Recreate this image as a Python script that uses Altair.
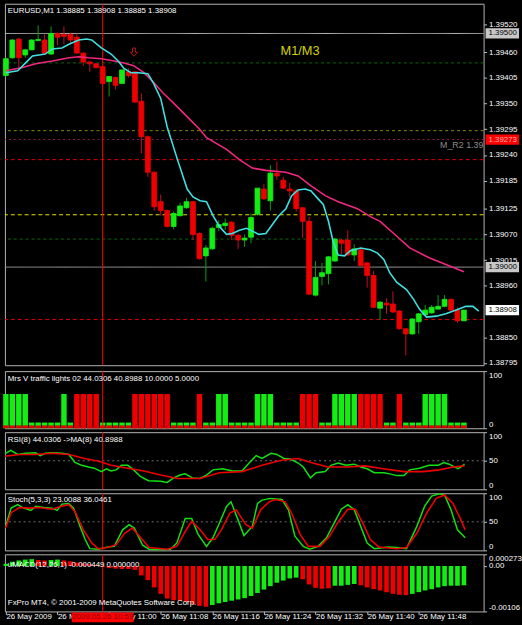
import json
import altair as alt
import pandas as pd

# ---------------- data : EURUSD M1, 26 May 2009, bars 10:44 .. 11:55 ----------------
bar_index = list(range(72))
open_ = [1.39410, 1.39448, 1.39488, 1.39454, 1.39465, 1.39485, 1.39486, 1.39456, 1.39500, 1.39498,
         1.39498, 1.39492, 1.39458, 1.39439, 1.39435, 1.39429, 1.39397, 1.39406, 1.39393, 1.39418,
         1.39418, 1.39355, 1.39279, 1.39203, 1.39140, 1.39121, 1.39087, 1.39110, 1.39127, 1.39140,
         1.39072, 1.39024, 1.39039, 1.39085, 1.39089, 1.39096, 1.39068, 1.39058, 1.39064, 1.39113,
         1.39167, 1.39142, 1.39201, 1.39186, 1.39167, 1.39163, 1.39127, 1.39098, 1.38940, 1.38980,
         1.38986, 1.39013, 1.39058, 1.39058, 1.39026, 1.39037, 1.39009, 1.38982, 1.38912, 1.38923,
         1.38921, 1.38906, 1.38868, 1.38857, 1.38883, 1.38898, 1.38902, 1.38910, 1.38916, 1.38931,
         1.38908, 1.38885]
high_ = [1.39448, 1.39488, 1.39490, 1.39467, 1.39488, 1.39517, 1.39498, 1.39515, 1.39502, 1.39515,
         1.39502, 1.39500, 1.39460, 1.39441, 1.39437, 1.39431, 1.39408, 1.39408, 1.39422, 1.39425,
         1.39420, 1.39372, 1.39281, 1.39205, 1.39155, 1.39123, 1.39119, 1.39138, 1.39148, 1.39142,
         1.39074, 1.39047, 1.39087, 1.39100, 1.39104, 1.39098, 1.39070, 1.39070, 1.39115, 1.39169,
         1.39178, 1.39218, 1.39226, 1.39193, 1.39180, 1.39167, 1.39129, 1.39108, 1.39013, 1.39009,
         1.39024, 1.39062, 1.39060, 1.39079, 1.39049, 1.39039, 1.39011, 1.38992, 1.38927, 1.38933,
         1.38948, 1.38908, 1.38870, 1.38891, 1.38902, 1.38919, 1.38919, 1.38940, 1.38940, 1.38933,
         1.38914, 1.38908]
low_ = [1.39408, 1.39446, 1.39427, 1.39448, 1.39464, 1.39483, 1.39456, 1.39454, 1.39475, 1.39477,
        1.39479, 1.39457, 1.39431, 1.39418, 1.39425, 1.39391, 1.39365, 1.39380, 1.39393, 1.39406,
        1.39353, 1.39243, 1.39193, 1.39121, 1.39110, 1.39085, 1.39081, 1.39108, 1.39125, 1.39058,
        1.39016, 1.38969, 1.39037, 1.39077, 1.39079, 1.39058, 1.39039, 1.39043, 1.39051, 1.39110,
        1.39144, 1.39121, 1.39186, 1.39167, 1.39150, 1.39119, 1.39062, 1.38940, 1.38937, 1.38961,
        1.38963, 1.39011, 1.39028, 1.39024, 1.39013, 1.39001, 1.38956, 1.38912, 1.38887, 1.38900,
        1.38902, 1.38866, 1.38811, 1.38855, 1.38857, 1.38895, 1.38900, 1.38910, 1.38914, 1.38906,
        1.38881, 1.38885]
close_ = [1.39446, 1.39486, 1.39448, 1.39465, 1.39486, 1.39487, 1.39458, 1.39500, 1.39492, 1.39494,
          1.39486, 1.39458, 1.39439, 1.39435, 1.39427, 1.39393, 1.39408, 1.39389, 1.39422, 1.39410,
          1.39353, 1.39279, 1.39203, 1.39129, 1.39121, 1.39087, 1.39115, 1.39131, 1.39140, 1.39070,
          1.39018, 1.39041, 1.39083, 1.39091, 1.39094, 1.39068, 1.39058, 1.39062, 1.39106, 1.39169,
          1.39146, 1.39201, 1.39195, 1.39169, 1.39163, 1.39125, 1.39098, 1.38942, 1.38978, 1.38988,
          1.39022, 1.39060, 1.39051, 1.39026, 1.39039, 1.39003, 1.38982, 1.38914, 1.38925, 1.38919,
          1.38904, 1.38868, 1.38857, 1.38889, 1.38900, 1.38908, 1.38914, 1.38916, 1.38931, 1.38908,
          1.38885, 1.38908]

fast_ma_idx = [0, 1.83, 3.05, 4.12, 6.1, 7.18, 8.7, 9.77, 11.3, 12.5, 13.3, 14.8, 16.3, 17.4, 18.3,
               19.4, 20.5, 22, 22.9, 24, 25, 26.6, 28.1, 29, 30.1, 31.1, 32.1, 33.1, 34.2, 35.1,
               36.2, 37.3, 38.2, 39.2, 40.3, 41.2, 42.3, 43.4, 44.3, 45.3, 46.4, 47.3, 48.4, 49.2,
               50, 50.7, 51.5, 52.5, 53.4, 55, 56.5, 57.6, 58.6, 59.5, 60.6, 62.1, 63.2, 64.1,
               65.2, 66.7, 68.2, 69.8, 71.3, 72.4, 73.3]
fast_ma_val = [1.39416, 1.39420, 1.39437, 1.39452, 1.39456, 1.39467, 1.39469, 1.39477, 1.39486,
               1.39488, 1.39486, 1.39469, 1.39456, 1.39441, 1.39425, 1.39416, 1.39416, 1.39414,
               1.39393, 1.39361, 1.39300, 1.39230, 1.39167, 1.39150, 1.39142, 1.39140, 1.39110,
               1.39087, 1.39070, 1.39072, 1.39079, 1.39083, 1.39077, 1.39070, 1.39072, 1.39089,
               1.39110, 1.39125, 1.39153, 1.39165, 1.39167, 1.39163, 1.39146, 1.39134, 1.39098,
               1.39056, 1.39026, 1.39024, 1.39035, 1.39041, 1.39037, 1.39030, 1.39016, 1.38988,
               1.38967, 1.38952, 1.38931, 1.38910, 1.38893, 1.38895, 1.38900, 1.38908, 1.38916,
               1.38916, 1.38906]
slow_ma_idx = [0, 2.6, 4.6, 7.2, 9.8, 11.3, 12.8, 14.8, 16.8, 18.3, 19.8, 21.4, 22.9, 24.4, 26,
               27.5, 30.1, 31.1, 34.2, 36.2, 38.2, 40.3, 43.4, 45.3, 47.3, 49.5, 51.5, 54.5, 56.5,
               58, 60.6, 62.6, 65.6, 68.7, 71]
slow_ma_val = [1.39420, 1.39427, 1.39435, 1.39441, 1.39448, 1.39450, 1.39448, 1.39446, 1.39441,
               1.39437, 1.39431, 1.39416, 1.39395, 1.39372, 1.39351, 1.39330, 1.39294, 1.39277,
               1.39252, 1.39230, 1.39212, 1.39207, 1.39203, 1.39195, 1.39174, 1.39153, 1.39140,
               1.39125, 1.39108, 1.39098, 1.39066, 1.39041, 1.39020, 1.39003, 1.38990]

level_prices = [1.39500, 1.39437, 1.39292, 1.39273, 1.39230, 1.39112, 1.39060, 1.39000, 1.38888]
price_ticks = [1.39520, 1.39460, 1.39405, 1.39350, 1.39295, 1.39240, 1.39185, 1.39125, 1.39070,
               1.39015, 1.38960, 1.38850, 1.38795]
marked_prices = [1.39500, 1.39273, 1.39000, 1.38908]
crosshair_bar = 15
time_ticks = [0, 8, 16, 24, 32, 40, 48, 56, 64]
time_labels = ["26 May 2009", "26 May 10:52", "26 May 11:00", "26 May 11:08", "26 May 11:16",
               "26 May 11:24", "26 May 11:32", "26 May 11:40", "26 May 11:48"]

tl_height = [60, 60, 60, 60, 10, 10, 10, 10, 10, 60, 10, 60, 60, 60, 60, 10, 10, 10, 10, 10,
             60, 60, 60, 60, 60, 60, 10, 10, 10, 10, 60, 10, 10, 60, 60, 10, 10, 10, 10, 60,
             60, 60, 10, 10, 10, 10, 60, 60, 60, 10, 10, 60, 60, 60, 60, 60, 60, 60, 60, 10,
             10, 60, 10, 10, 10, 60, 60, 60, 60, 10, 10, 10]
tl_signal = ["G", "G", "G", "G", "G", "G", "G", "G", "G", "G", "G", "R", "R", "R", "R", "G", "G", "G",
             "G", "G", "R", "R", "R", "R", "R", "R", "G", "G", "G", "G", "R", "G", "G", "G", "G", "G",
             "G", "G", "G", "G", "G", "G", "G", "G", "G", "G", "R", "R", "R", "G", "G", "G", "G", "G",
             "G", "R", "R", "R", "R", "G", "G", "R", "G", "G", "G", "G", "G", "G", "G", "G", "G", "G"]
tl_floor = [5, 5, 5, 5, 5, 5, 5, 5, 5, 5, 5, 5, 5, 5, 5, 5, 5, 5, 5, 5, 5, 5, 5, 5, 5, 5, 5, 5,
            5, 5, 5, 5, 5, 5, 5, 5, 5, 5, 5, 5, 5, 5, 5, 5, 5, 5, 5, 5, 5, 5, 5, 5, 5, 5, 5, 5,
            5, 5, 5, 5, 5, 5, 5, 5, 5, 5, 5, 5, 5, 5, 5, 5]

rsi_idx = [-0.2, 0.76, 1.83, 3.05, 4.58, 5.34, 6.1, 7.18, 8.7, 9.77, 10.7, 11.76, 12.8, 13.7, 14.8,
           15.6, 16.3, 17.1, 17.9, 18.9, 19.8, 20.9, 22.1, 24, 25, 26, 27, 27.8, 28.9, 30.1, 31.1,
           32.1, 33.6, 35.1, 36.6, 37.7, 38.8, 39.7, 41.1, 42, 43.1, 44.1, 45.3, 46.1, 47.2, 48.1,
           49.5, 50.4, 51.5, 52.7, 54, 55, 56, 57.1, 58.6, 59.5, 60.6, 61.7, 62.6, 64.1, 65.6, 67,
           67.9, 68.7, 70.1, 70.5, 71.1]
rsi_val = [62, 68, 61, 63, 64, 59, 63, 64, 63, 61, 47, 42, 39, 37, 31, 36, 32, 34, 42, 42, 34, 22,
           15, 14, 12, 20, 25, 27, 20, 19, 25, 34, 36, 32, 32, 46, 59, 54, 63, 61, 54, 53, 46, 39,
           20, 29, 31, 42, 46, 42, 44, 39, 36, 29, 29, 27, 24, 24, 34, 37, 42, 42, 47, 44, 36, 39, 44]
rsi_ma_idx = [-0.15, 2.1, 4.6, 7.2, 9.8, 12.2, 14.4, 16.3, 18.9, 21.4, 24, 26.6, 30.1, 33.1, 36.6,
              39.7, 42.7, 45.3, 47.3, 49.9, 53, 55.6, 58, 61.7, 64.7, 67.2, 69.3, 71.1]
rsi_ma_val = [58, 61, 61, 63, 61, 54, 49, 42, 37, 32, 25, 19, 19, 29, 31, 42, 51, 54, 47, 39, 39,
              41, 37, 31, 31, 34, 39, 41]

stoch_idx = [-0.05, 0.81, 1.83, 2.6, 3.87, 4.63, 5.9, 7.18, 7.94, 8.7, 9.72, 10.5, 11.5, 12.3, 13,
             14.3, 15.8, 16.8, 18.1, 19.1, 19.9, 21.2, 22.2, 24, 25.5, 26.5, 27.8, 28.8, 29.8,
             31.1, 32.1, 33.1, 34.2, 34.9, 35.9, 36.9, 38.2, 39, 39.7, 41, 42.8, 43.8, 44.8, 46.1,
             47.1, 48.4, 49.7, 50.9, 52, 53, 54, 55, 56, 57.1, 59.3, 60.6, 62.1, 63.7, 64.9, 66,
             67.2, 68, 69, 70, 71.2]
stoch_val = [42, 74, 80, 75, 70, 77, 75, 74, 70, 81, 82, 74, 42, 19, 3, 2, 6, 7, 36, 45, 39, 9, 2,
             0.5, 2, 13, 56, 56, 28, 7, 22, 48, 77, 85, 56, 26, 42, 82, 88, 91, 89, 71, 25, 7, 2, 7,
             22, 48, 72, 80, 71, 42, 13, 3, 6, 5, 3, 42, 77, 95, 99, 97, 71, 36, 22]
stoch_sig_idx = [-0.05, 0.81, 2.1, 3.6, 5.1, 7.18, 8.45, 9.72, 10.7, 12, 13.3, 14.3, 15.8, 17.1,
                 18.4, 19.6, 20.9, 22.2, 25, 26.5, 27.8, 28.8, 30.1, 31.3, 32.4, 33.4, 34.7, 35.7,
                 37.2, 38.2, 39.5, 40.8, 41.8, 43.3, 44.3, 45.6, 46.9, 48.7, 50.2, 51.4, 53, 54.2,
                 55.3, 56.5, 57.8, 60.6, 62.1, 63.7, 65.2, 66.7, 68, 69.3, 70.3, 71.2]
stoch_sig_val = [39, 66, 75, 74, 75, 72, 77, 80, 68, 36, 13, 3, 5, 10, 30, 39, 22, 5, 2, 7, 33, 51,
                 36, 19, 19, 36, 65, 71, 45, 39, 71, 85, 89, 85, 65, 28, 7, 7, 25, 48, 72, 72, 48,
                 19, 6, 3, 5, 30, 65, 91, 97, 82, 59, 36]

macd_val = [0.00005, 0.00010, 0.00013, 0.00015, 0.00016, 0.00014, 0.00013, 0.00014, 0.00015, 0.00013,
            0.00011, 0.00008, 0.00006, 0.00004, 0.00002, -0.00002, -0.00005, -0.00006, -0.00007, -0.00007,
            -0.00009, -0.00022, -0.00033, -0.00050, -0.00065, -0.00076, -0.00080, -0.00081, -0.00084, -0.00089,
            -0.00093, -0.00095, -0.00091, -0.00087, -0.00084, -0.00081, -0.00078, -0.00075, -0.00070, -0.00063,
            -0.00055, -0.00047, -0.00039, -0.00034, -0.00029, -0.00027, -0.00031, -0.00043, -0.00051, -0.00053,
            -0.00052, -0.00046, -0.00046, -0.00044, -0.00042, -0.00045, -0.00050, -0.00054, -0.00057, -0.00061,
            -0.00065, -0.00067, -0.00068, -0.00065, -0.00061, -0.00057, -0.00054, -0.00050, -0.00047, -0.00046,
            -0.00046, -0.00045]
macd_signal = ["G", "G", "G", "G", "G", "R", "R", "G", "G", "R", "R", "R", "R", "R", "R", "R", "R", "R",
               "R", "R", "R", "R", "R", "R", "R", "R", "R", "R", "R", "R", "R", "R", "G", "G", "G", "G",
               "G", "G", "G", "G", "G", "G", "G", "G", "G", "G", "R", "R", "R", "R", "R", "G", "G", "G",
               "G", "R", "R", "R", "R", "R", "R", "R", "R", "G", "G", "G", "G", "G", "G", "G", "G", "G"]
macd_axis_values = [-0.00106, 0.0, 0.000273]
macd_axis_labels = ["-0.00106", "0.00", "0.000273"]

# ---------------- styling ----------------
FONT = "Liberation Sans"
GREEN = "#12ee12"
RED = "#ee0000"
W = 486
H_MAIN, H_SUB = 367, 58
XS = alt.Scale(domain=[-0.15, 74.05], nice=False, zero=False)
PS = alt.Scale(domain=[1.387900, 1.395636], nice=False, zero=False)
PCT = alt.Scale(domain=[0, 100], nice=False, zero=False)
MS = alt.Scale(domain=[-0.001060, 0.000273], nice=False, zero=False)

AX = dict(labelColor="#ffffff", labelFont=FONT, labelFontSize=8, tickColor="#c0c0c0",
          domain=False, grid=False, labelOverlap=False)
price_axis = alt.Axis(orient="right", values=price_ticks, format=".5f", labelFlush=False,
                      tickSize=3, labelPadding=2, **AX)
pct_axis2 = alt.Axis(orient="right", values=[0, 100], format="d", labelFlush=True, tickSize=3, labelPadding=2, **AX)
pct_axis3 = alt.Axis(orient="right", values=[0, 50, 100], format="d", labelFlush=True, tickSize=3, labelPadding=2, **AX)
macd_axis = alt.Axis(orient="right", values=macd_axis_values, labelFlush=True, tickSize=3, labelPadding=2,
                     labelExpr="%s[indexof(%s, datum.value)]" % (json.dumps(macd_axis_labels), json.dumps(macd_axis_values)),
                     **AX)
time_axis = alt.Axis(orient="bottom", values=time_ticks, labelAlign="left", labelFlush=False,
                     tickSize=3, labelPadding=-2,
                     labelExpr="%s[indexof(%s, datum.value)]" % (json.dumps(time_labels), json.dumps(time_ticks)),
                     **AX)


def xf(field, axis=None):
    return alt.X(field, type="quantitative", scale=XS, axis=axis, title=None)


def xd(v, axis=None):
    return alt.XDatum(v, type="quantitative", scale=XS, axis=axis, title=None)


def yf(field, scale, axis):
    return alt.Y(field, type="quantitative", scale=scale, axis=axis, title=None)


def yd(v, scale, axis):
    return alt.YDatum(v, type="quantitative", scale=scale, axis=axis, title=None)


def label(text, x, y, scale, axis, xaxis=None, **kw):
    opts = dict(align="left", baseline="middle", font=FONT, fontSize=8, color="#ffffff")
    opts.update(kw)
    return alt.Chart(pd.DataFrame({"t": [text]})).mark_text(**opts).encode(
        x=xd(x, xaxis), y=yd(y, scale, axis), text="t:N")


# ---------------- main price panel ----------------
bars = pd.DataFrame({"i": bar_index, "o": open_, "h": high_, "l": low_, "c": close_})
candle_base = alt.Chart(bars).transform_calculate(
    x0="datum.i - 0.38", x1="datum.i + 0.38",
    blo="min(datum.o, datum.c)", bhi="max(datum.o, datum.c)",
    col="datum.c >= datum.o ? '%s' : '%s'" % (GREEN, RED),
    wk="datum.c >= datum.o ? '#0aa00a' : '#c0102a'")
wicks = candle_base.mark_rule(strokeWidth=1).encode(
    x=xf("i"), y=yf("l", PS, price_axis), y2="h:Q", color=alt.Color("wk:N", scale=None))
bodies = candle_base.mark_rect(strokeWidth=0.8).encode(
    x=xf("x0"), x2="x1:Q", y=yf("blo", PS, price_axis), y2="bhi:Q",
    color=alt.Color("col:N", scale=None), stroke=alt.Stroke("col:N", scale=None))

level_styles = [("#bcbcbc", [1, 0]), ("#0a6a0a", [3, 3]), ("#8a8a00", [3, 3]), ("#8c1a66", [2, 3]),
                ("#e00000", [4, 3]), ("#e6e600", [4, 3]), ("#0a6a0a", [3, 3]), ("#9a9a9a", [1, 0]),
                ("#e00000", [4, 3])]
level_layers = []
for p, (c, d) in zip(level_prices, level_styles):
    level_layers.append(alt.Chart(pd.DataFrame({"p": [p]})).mark_rule(color=c, strokeDash=d, strokeWidth=1)
                        .encode(y=yf("p", PS, price_axis)))

cross_main = alt.Chart(pd.DataFrame({"b": [crosshair_bar]})).mark_rule(color="#ff0000", strokeWidth=1).encode(x=xf("b"))

slow = alt.Chart(pd.DataFrame({"i": slow_ma_idx, "v": slow_ma_val})).mark_line(
    color="#f0287f", strokeWidth=1.6, clip=True).encode(x=xf("i"), y=yf("v", PS, price_axis))
fast = alt.Chart(pd.DataFrame({"i": fast_ma_idx, "v": fast_ma_val})).mark_line(
    color="#40e0e0", strokeWidth=1.6, clip=True).encode(x=xf("i"), y=yf("v", PS, price_axis))

arrow = alt.Chart(pd.DataFrame({"i": [19.85], "p": [1.39460]})).mark_point(
    shape="M-0.35,-1L0.35,-1L0.35,0L0.9,0L0,1L-0.9,0L-0.35,0Z", filled=False, stroke="#ff2020",
    strokeWidth=1, size=70).encode(x=xf("i"), y=yf("p", PS, price_axis))

head_main = label("EURUSD,M1  1.38885 1.38908 1.38885 1.38908", 0.3, 1.39549, PS, price_axis)
m1m3 = label("M1/M3", 45.6, 1.39462, PS, price_axis, align="center", fontSize=13, color="#d2d200")
mr2 = label("M_R2 1.39273", 67.3, 1.39262, PS, price_axis, fontSize=9, color="#8c8c8c", clip=True)

box_styles = [("#c8c8c8", "#000000"), ("#ff0000", "#ffb0b0"), ("#c8c8c8", "#000000"), ("#ffffff", "#000000")]
box_layers = []
for p, (bg, fg) in zip(marked_prices, box_styles):
    d = pd.DataFrame({"p": [p], "lo": [p - 0.000110], "hi": [p + 0.000110], "t": ["%.5f" % p]})
    box_layers.append(alt.Chart(d).mark_rect(color=bg).encode(
        x=alt.value(W + 2), x2=alt.value(W + 36), y=yf("lo", PS, price_axis), y2="hi:Q"))
    box_layers.append(alt.Chart(d).mark_text(align="left", baseline="middle", font=FONT, fontSize=8,
                                             color=fg).encode(
        x=alt.value(W + 5), y=yf("p", PS, price_axis), text="t:N"))

main = alt.layer(*level_layers, cross_main, wicks, bodies, slow, fast, arrow, head_main, m1m3, mr2,
                 *box_layers).properties(width=W, height=H_MAIN)

# ---------------- traffic lights panel ----------------
tl = pd.DataFrame({"i": bar_index, "v": tl_height, "s": tl_signal, "f": tl_floor})
tl_base = alt.Chart(tl).transform_calculate(
    x0="datum.i - 0.42", x1="datum.i + 0.42", z="0",
    col="datum.s == 'G' ? '%s' : '%s'" % (GREEN, RED))
tl_bars = tl_base.mark_rect().encode(x=xf("x0"), x2="x1:Q", y=yf("v", PCT, pct_axis2), y2="z:Q",
                                     color=alt.Color("col:N", scale=None))
tl_strip = tl_base.mark_rect(color="#e00000").encode(x=xf("x0"), x2="x1:Q", y=yf("f", PCT, pct_axis2), y2="z:Q")
cross = alt.Chart(pd.DataFrame({"b": [crosshair_bar]})).mark_rule(color="#ff0000", strokeWidth=1).encode(x=xf("b"))
tl_head = label("Mrs V traffic lights 02 44.0306 40.8988 10.0000 5.0000", 0.3, 86, PCT, pct_axis2)
tl_panel = alt.layer(tl_bars, tl_strip, cross, tl_head).properties(width=W, height=H_SUB)

# ---------------- RSI panel ----------------
mid_rsi = alt.Chart(pd.DataFrame({"m": [50]})).mark_rule(color="#707070", strokeDash=[2, 3]).encode(
    y=yf("m", PCT, pct_axis3))
rsi_line = alt.Chart(pd.DataFrame({"i": rsi_idx, "v": rsi_val})).mark_line(color="#12e012", strokeWidth=1.5, clip=True).encode(
    x=xf("i"), y=yf("v", PCT, pct_axis3))
rsi_ma = alt.Chart(pd.DataFrame({"i": rsi_ma_idx, "v": rsi_ma_val})).mark_line(color="#ee0000", strokeWidth=1.6, clip=True).encode(
    x=xf("i"), y=yf("v", PCT, pct_axis3))
rsi_head = label("RSI(8) 44.0306  ->MA(8) 40.8988", 0.3, 86, PCT, pct_axis3)
rsi_panel = alt.layer(mid_rsi, cross, rsi_line, rsi_ma, rsi_head).properties(width=W, height=H_SUB)

# ---------------- Stochastic panel ----------------
st_line = alt.Chart(pd.DataFrame({"i": stoch_idx, "v": stoch_val})).mark_line(color="#12e012", strokeWidth=1.5, clip=True).encode(
    x=xf("i"), y=yf("v", PCT, pct_axis3))
st_sig = alt.Chart(pd.DataFrame({"i": stoch_sig_idx, "v": stoch_sig_val})).mark_line(color="#ee0000", strokeWidth=1.6, clip=True).encode(
    x=xf("i"), y=yf("v", PCT, pct_axis3))
st_head = label("Stoch(5,3,3) 23.0088 36.0461", 0.3, 88, PCT, pct_axis3)
st_panel = alt.layer(mid_rsi, cross, st_line, st_sig, st_head).properties(width=W, height=H_SUB)

# ---------------- MACD panel ----------------
md = pd.DataFrame({"i": bar_index, "v": macd_val, "s": macd_signal})
macd_bars = alt.Chart(md).transform_calculate(
    x0="datum.i - 0.36", x1="datum.i + 0.36", z="0",
    col="datum.s == 'G' ? '%s' : '%s'" % (GREEN, RED)).mark_rect().encode(
    x=xf("x0", time_axis), x2="x1:Q", y=yf("v", MS, macd_axis), y2="z:Q", color=alt.Color("col:N", scale=None))
cross_m = alt.Chart(pd.DataFrame({"b": [crosshair_bar]})).mark_rule(color="#ff0000", strokeWidth=1).encode(
    x=xf("b", time_axis))


def mlabel(text, x, y, **kw):
    opts = dict(align="left", baseline="middle", font=FONT, fontSize=8, color="#ffffff")
    opts.update(kw)
    return alt.Chart(pd.DataFrame({"t": [text]})).mark_text(**opts).encode(
        x=xd(x, time_axis), y=yd(y, MS, macd_axis), text="t:N")


macd_head = mlabel("uMACD(12,26,1) -0.000449 0.000000", 0.3, 0.00003)
copyright_ = mlabel("FxPro MT4, © 2001-2009 MetaQuotes Software Corp.", 0.3, -0.00087)
tbox = pd.DataFrame({"b": [crosshair_bar], "b0": [crosshair_bar - 4.8], "b1": [crosshair_bar + 4.8],
                     "t": ["2009.05.26 10:59"]})
time_box = alt.Chart(tbox).mark_rect(color="#ff0000").encode(
    x=xf("b0", time_axis), x2="b1:Q", y=alt.value(H_SUB + 1), y2=alt.value(H_SUB + 11))
time_txt = alt.Chart(tbox).mark_text(align="center", baseline="middle", font=FONT, fontSize=8,
                                     color="#8a0000").encode(
    x=xf("b", time_axis), y=alt.value(H_SUB + 6), text="t:N")
macd_panel = alt.layer(cross_m, macd_bars, macd_head, copyright_, time_box, time_txt).properties(width=W, height=H_SUB)

chart = alt.vconcat(main, tl_panel, rsi_panel, st_panel, macd_panel, spacing=2).resolve_scale(
    x="independent", y="independent").configure(
    background="#000000", padding={"left": 2, "top": -2, "right": 0, "bottom": 0}).configure_view(
    stroke="#b4b4b4", strokeWidth=1)

chart.save("out.html", embed_options={"renderer": "svg", "actions": False})
